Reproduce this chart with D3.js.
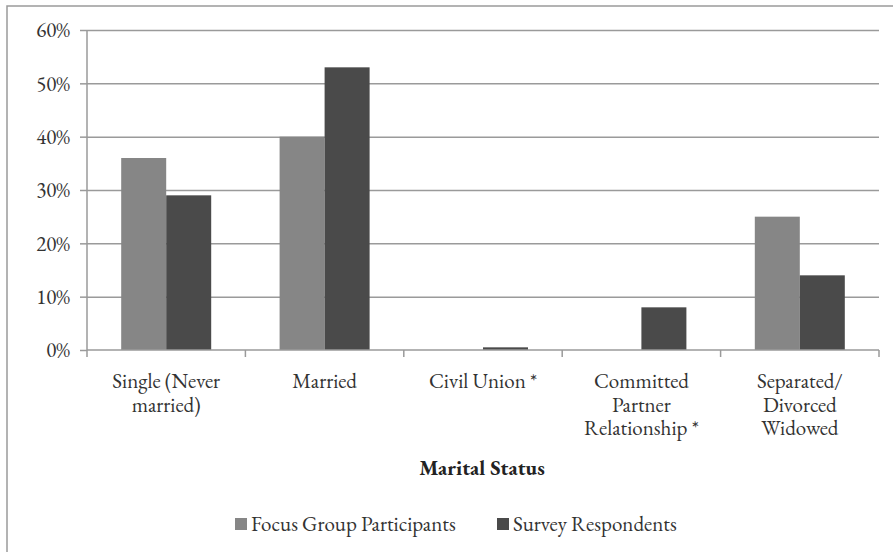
<!DOCTYPE html>
<html>
<head>
<meta charset="utf-8">
<script src="https://cdn.jsdelivr.net/npm/d3@7"></script>
<style>
  html, body { margin: 0; padding: 0; background: #fff; }
  svg { display: block; }
</style>
</head>
<body>
<svg id="chart" width="893" height="552"></svg>
<script>
const categories = [
  ["Single (Never", "married)"],
  ["Married"],
  ["Civil Union *"],
  ["Committed", "Partner", "Relationship *"],
  ["Separated/", "Divorced", "Widowed"]
];
const categoryKeys = ["Single (Never married)", "Married", "Civil Union *", "Committed Partner Relationship *", "Separated/ Divorced Widowed"];
const seriesNames = ["Focus Group Participants", "Survey Respondents"];
const focusValues = [36, 40, 0, 0, 25];
const surveyValues = [29, 53, 0.5, 8, 14];
const yTicks = [0, 10, 20, 30, 40, 50, 60];
const seriesColors = ["#868686", "#4a4a4a"];
const xTitle = "Marital Status";

const FONT = "'EB Garamond', 'Liberation Serif', serif";
const FS = "21px";
const svg = d3.select("#chart");

// outer frame (extends beyond right/bottom edges as in reference)
svg.append("rect").attr("x", 7).attr("y", 6).attr("width", 920).attr("height", 600)
  .attr("fill", "none").attr("stroke", "#9a9a9a").attr("stroke-width", 1.5);

const x0 = d3.scaleBand().domain(categoryKeys).range([87, 879]).paddingInner(0).paddingOuter(0);
const x1 = d3.scaleBand().domain(seriesNames).range([0, x0.bandwidth()]).paddingInner(0).paddingOuter(0.76);
const y = d3.scaleLinear().domain([0, 60]).range([350, 30]);

// gridlines
const grid = svg.append("g").attr("transform", "translate(87,0)")
  .call(d3.axisLeft(y).tickValues(yTicks.filter(d => d > 0)).tickSize(-(879 - 87)).tickFormat(""));
grid.select(".domain").remove();
grid.selectAll(".tick line").attr("stroke", "#9a9a9a").attr("stroke-width", 1.5);

// y axis
const yAxis = svg.append("g").attr("transform", "translate(87,0)")
  .call(d3.axisLeft(y).tickValues(yTicks).tickSize(7).tickPadding(10).tickFormat(d => d + "%"));
yAxis.select(".domain").attr("stroke", "#9a9a9a").attr("stroke-width", 1.5).attr("d", "M0,30V350");
yAxis.selectAll(".tick line").attr("stroke", "#9a9a9a").attr("stroke-width", 1.5);
yAxis.selectAll(".tick text").style("font-size", FS).style("fill", "#333")
  .style("font-family", FONT).attr("dy", "0.32em");

// bars
const data = categoryKeys.map((c, i) => ({ cat: c, vals: [focusValues[i], surveyValues[i]] }));
const groups = svg.append("g").selectAll("g").data(data).join("g")
  .attr("transform", d => `translate(${x0(d.cat)},0)`);
groups.selectAll("rect")
  .data(d => d.vals.map((v, j) => ({ s: seriesNames[j], v, j })).filter(e => e.v > 0))
  .join("rect")
  .attr("x", e => x1(e.s))
  .attr("width", x1.bandwidth())
  .attr("y", e => y(e.v))
  .attr("height", e => y(0) - y(e.v))
  .attr("fill", e => seriesColors[e.j]);

// x axis
const xAxis = svg.append("g").attr("transform", "translate(0,350)")
  .call(d3.axisBottom(x0).tickSize(0).tickFormat(""));
xAxis.select(".domain").attr("stroke", "#9a9a9a").attr("stroke-width", 1.5).attr("d", "M87,0H879");
const boundaries = categoryKeys.map(c => x0(c)).concat([x0(categoryKeys[categoryKeys.length - 1]) + x0.bandwidth()]);
xAxis.selectAll("line.bnd").data(boundaries).join("line").attr("class", "bnd")
  .attr("x1", d => d).attr("x2", d => d).attr("y1", 0).attr("y2", 7)
  .attr("stroke", "#9a9a9a").attr("stroke-width", 1.5);

// category labels
categoryKeys.forEach((c, i) => {
  const cx = x0(c) + x0.bandwidth() / 2;
  const t = svg.append("text").attr("x", cx).attr("y", 388)
    .attr("text-anchor", "middle").style("font-size", FS).style("font-family", FONT).style("fill", "#333");
  categories[i].forEach((line, k) => {
    t.append("tspan").attr("x", cx).attr("y", 388 + k * 23.5).text(line);
  });
});

// axis title
svg.append("text").attr("x", 482).attr("y", 475).attr("text-anchor", "middle")
  .style("font-size", FS).style("font-weight", "bold").style("font-family", FONT).style("fill", "#222").text(xTitle);

// legend
const legendX = [235, 497];
seriesNames.forEach((s, i) => {
  svg.append("rect").attr("x", legendX[i]).attr("y", 518).attr("width", 12).attr("height", 12)
    .attr("fill", seriesColors[i]);
  svg.append("text").attr("x", legendX[i] + 16).attr("y", 530.5)
    .style("font-size", FS).style("font-family", FONT).style("fill", "#333").text(s);
});
</script>
</body>
</html>
